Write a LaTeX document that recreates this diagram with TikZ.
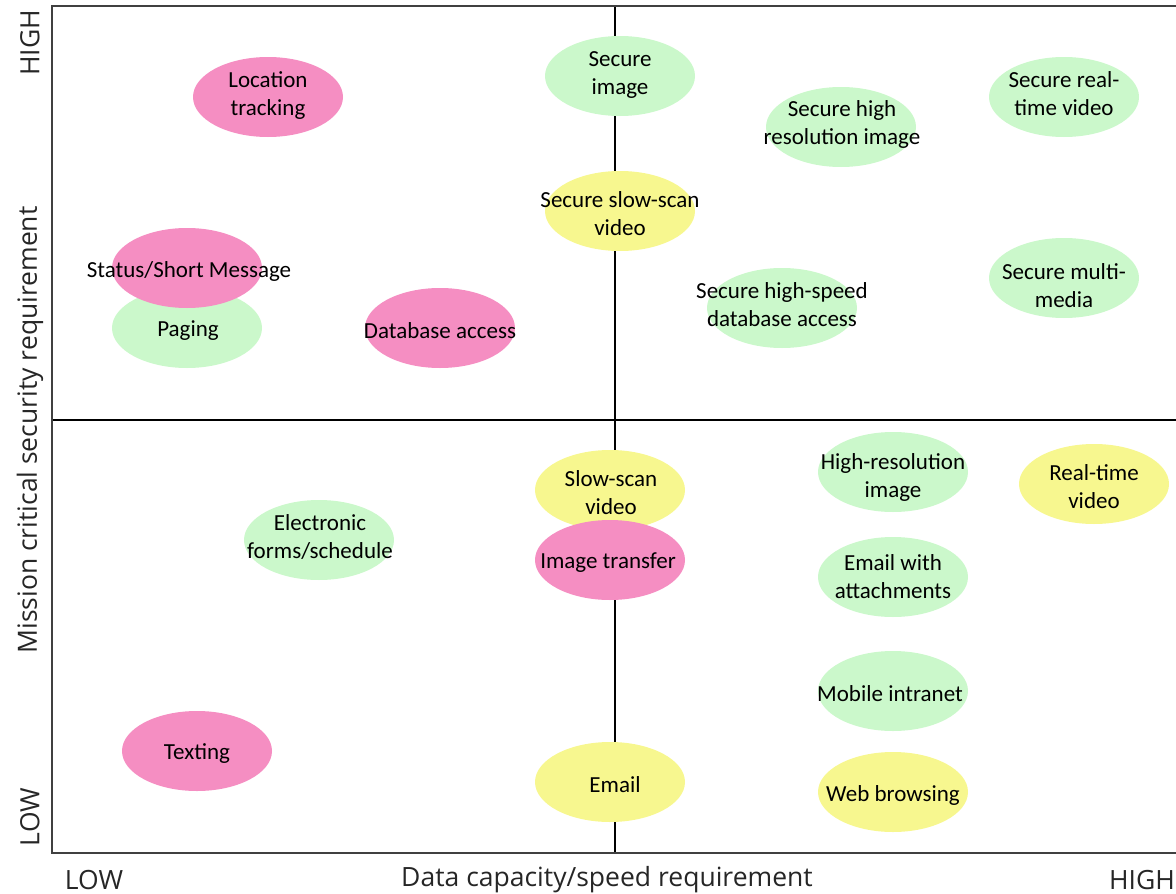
\documentclass[tikz,border=0pt]{standalone}
\usepackage{fontspec}
\setmainfont{Carlito}
\newfontfamily\axisfont{Open Sans}
\usetikzlibrary{shapes.geometric}
\definecolor{pinkc}{HTML}{F58EC2}
\definecolor{greenc}{HTML}{CBF8CB}
\definecolor{yellowc}{HTML}{F7F78F}
\definecolor{framec}{HTML}{404040}
\tikzset{
  lbl/.style={align=center, inner sep=0pt, yshift=-3pt, font=\fontsize{23}{28}\selectfont, text=black},
  axl/.style={inner sep=0pt, font=\axisfont\fontsize{26.5}{30}\selectfont, text=black!85},
}
\newcommand\blobfill[3]{\fill[#1] (#2,#3) ellipse [x radius=75, y radius=40];}
\begin{document}
\begin{tikzpicture}[x=1pt,y=-1pt]
\useasboundingbox (0,0) rectangle (1176,894);
% axes lines
\draw[line width=1.1pt, black] (615,6) -- (615,853);
\draw[line width=1.1pt, black] (52,420) -- (1176,420);
\draw[line width=1.6pt, framec] (1176,6) -- (52,6) -- (52,853) -- (1176,853);
% ellipses
\blobfill{pinkc}{268}{97}
\blobfill{greenc}{620}{76}
\blobfill{greenc}{841}{127}
\blobfill{greenc}{1064}{97}
\blobfill{yellowc}{620}{211}
\blobfill{greenc}{187}{328}
\blobfill{pinkc}{187}{268}
\blobfill{pinkc}{440}{328}
\blobfill{greenc}{782}{308}
\blobfill{greenc}{1064}{278}
\blobfill{yellowc}{610}{490}
\blobfill{pinkc}{610}{560}
\blobfill{greenc}{319}{540}
\blobfill{greenc}{893}{472}
\blobfill{yellowc}{1094}{484}
\blobfill{greenc}{893}{577}
\blobfill{greenc}{893}{691}
\blobfill{pinkc}{197}{751}
\blobfill{yellowc}{610}{782}
\blobfill{yellowc}{893}{792}
% labels
\node[lbl] (loc) at (268,93) {Location\\tracking};
\node[lbl] (simg) at (620,72) {Secure\\image};
\node[lbl] (shri) at (842,121) {Secure high\\resolution image};
\node[lbl] (srtv) at (1064,91) {Secure real-\\time video};
\node[lbl] (sssv) at (620,211) {Secure slow-scan\\video};
\node[lbl] (stat) at (189,268) {Status/Short Message};
\node[lbl] (pag) at (188,328) {Paging};
\node[lbl] (dba) at (440,328) {Database access};
\node[lbl] (shsd) at (782,302) {Secure high-speed\\database access};
\node[lbl] (smm) at (1064,283) {Secure multi-\\media};
\node[lbl] (ssv) at (611,490) {Slow-scan\\video};
\node[lbl] (itr) at (608,560) {Image transfer};
\node[lbl] (efs) at (320,534) {Electronic\\forms/schedule};
\node[lbl] (hri) at (893,474) {High-resolution\\image};
\node[lbl] (rtv) at (1094,484) {Real-time\\video};
\node[lbl] (ewa) at (893,574) {Email with\\attachments};
\node[lbl] (mi) at (890,691) {Mobile intranet};
\node[lbl] (txt) at (197,751) {Texting};
\node[lbl] (em) at (615,782) {Email};
\node[lbl] (wb) at (893,792) {Web browsing};
% axis labels
\node[axl] (xlow) at (94,880) {LOW};
\node[axl] (xlab) at (607,880) {Data capacity/speed requirement};
\node[axl] (xhigh) at (1142,880) {HIGH};
\node[axl, rotate=90] (yhigh) at (30,43) {HIGH};
\node[axl, rotate=90] (ylab) at (30,430) {Mission critical security requirement};
\node[axl, rotate=90] (ylow) at (30,817) {LOW};
\end{tikzpicture}
\end{document}
